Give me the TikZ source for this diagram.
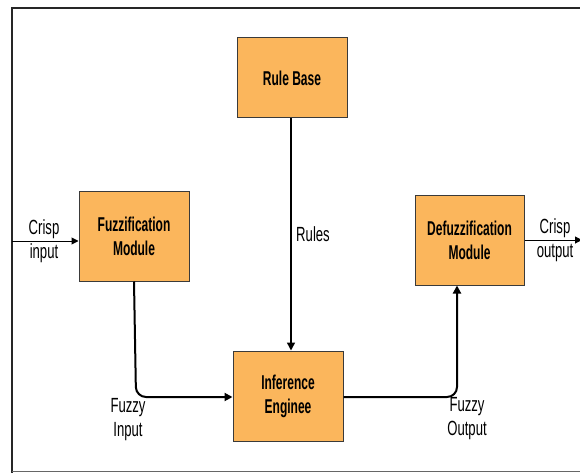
\documentclass[tikz,border=0pt]{standalone}
\usepackage{fontspec}
\setmainfont{Liberation Sans}
\newfontfamily\boxfont{Liberation Sans}[FakeStretch=0.6]
\newfontfamily\lblfont{Liberation Sans}[FakeStretch=0.64]
\usetikzlibrary{arrows.meta}
\definecolor{boxfill}{HTML}{FBB65C}
\definecolor{boxline}{HTML}{3A3A3A}
\begin{document}
\begin{tikzpicture}[x=1pt,y=-1pt,
  blk/.style={draw=boxline,line width=1pt,fill=boxfill,minimum width=110pt,minimum height=80pt,align=center,font=\boxfont\fontsize{20}{24}\selectfont\bfseries,inner sep=0pt},
  lbl/.style={align=center,font=\lblfont\fontsize{20.5}{24}\selectfont,inner sep=0pt},
  conn/.style={line width=2pt,-{Triangle[length=8pt,width=8pt]},rounded corners=10pt}]
\useasboundingbox (0,0) rectangle (580,473);
\draw[line width=2pt,black!85] (12,473) -- (12,8) -- (580,8);
\draw[line width=1.2pt,black!60] (12,471.5) -- (580,471.5);
\node[blk,minimum height=80pt] (rb) at (292,78) {Rule Base};
\node[blk,minimum height=90pt] (fm) at (134,236) {Fuzzification\\Module};
\node[blk,minimum width=109pt,minimum height=90pt] (dm) at (469.5,240) {Defuzzification\\Module};
\node[blk,minimum height=90pt] (ie) at (288,396) {Inference\\Enginee};
\coordinate (cin) at (12,241);
\coordinate (cout) at (582,240);
\draw[line width=1pt,-{Triangle[length=7pt,width=7pt]}] (cin) -- (fm.west |- cin);
\draw[line width=1pt,-{Triangle[length=7pt,width=7pt]}] (dm.east |- cout) -- (cout);
\draw[line width=1.5pt,-{Triangle[length=8pt,width=8pt]}] (rb.south -| 291,0) -- (ie.north -| 291,0);
\draw[conn] (fm.south) -- (136,397) -- (ie.west |- 0,397);
\draw[conn] (ie.east |- 0,397) -- (457,397) -- (dm.south -| 457,0);
\node[lbl] (l1) at (44,241) {Crisp\\input};
\node[lbl] (l2) at (555,240) {Crisp\\output};
\node[lbl] (l3) at (313,234) {Rules};
\node[lbl] (l4) at (128,420) {Fuzzy\\Input};
\node[lbl] (l5) at (467,419) {Fuzzy\\Output};
\end{tikzpicture}
\end{document}
